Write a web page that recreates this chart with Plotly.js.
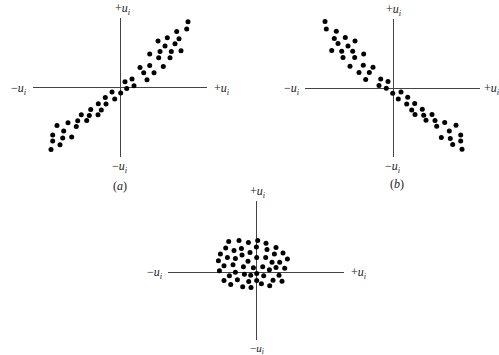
<!DOCTYPE html>
<html>
<head>
<meta charset="utf-8">
<script src="https://cdn.plot.ly/plotly-3.0.1.min.js"></script>
<style>
  body { margin: 0; background: white; }
  #graph { width: 499px; height: 355px; }
</style>
</head>
<body>
<div id="graph"></div>
<script>
// panel (a): positive correlation
const aX = [68, 66.7, 56.7, 59, 47.3, 38, 55, 45, 61, 51.3, 40, 29.7, 50, 38.7, 29.7, 43.3, 20, 23.7, 34, 27,
  12, 5, 14, 6.7, 0.7, -8, -5.3, -14.7, -14, -21.7, -18.7, -29.3, -22, -30.7, -38.7, -33.3, -42.3, -43.7,
  -52, -63, -56.3, -67.3, -48.3, -57.3, -67.3, -60, -69];
const aY = [66, 58.7, 56.3, 49, 50, 46.7, 44, 41.7, 37, 36.3, 36.3, 33.7, 30, 30, 22.3, 21.3, 20.3, 15, 15, 8,
  8.7, 6, 2, -0.7, -5.3, -4.3, -11.3, -9.7, -16.3, -16, -22.3, -21.7, -27, -27.7, -27, -32.7, -33, -38.7,
  -35, -37.7, -43.3, -47.3, -49.3, -50.3, -53.3, -57, -61.7];

// panel (b): negative correlation
const bX = [-68, -66.7, -56.7, -58.7, -47.7, -38, -55, -45, -61.3, -51.3, -40.3, -29.3, -50, -38.3, -29.7, -43,
  -20, -23.7, -34, -27.3, -12.3, -5, -14, -6.7, -0.3, 8, 5.3, 14.7, 13.7, 21.7, 18.7, 29.3, 22, 30.7, 39,
  33, 42, 43.7, 51.7, 63, 56.3, 67.7, 48.3, 57.3, 67.7, 59.7, 69];
const bY = [66.7, 59.3, 57, 49.7, 50.7, 47.3, 44.7, 42.3, 37.7, 37, 37, 34.3, 30.7, 30.7, 23, 22, 21, 15.7,
  15.7, 8.7, 9.3, 6.7, 2.7, 0, -5, -3.7, -10.7, -9, -15.7, -15.3, -21.7, -21, -26.3, -27, -26.3, -32,
  -32.3, -38, -34.3, -37, -42.7, -46.7, -49.3, -50.3, -52.7, -56.3, -61];

// panel (c): no correlation
const cX = [-28, -17.7, -8.3, 1, 9.3, -31, -22.7, -15.3, -6.7, -0.3, 10.3, 19.3, -36.3, -29.3, -21.3, -14.7,
  0, 9, 17.7, 26.3, -38.3, -32.7, -23.7, -13.3, -8.7, -3.3, 6, 15.3, 23, 30.7, 19.3, 28, -37.3, -21.3,
  -27.3, -12.3, -6, 0, 7, 12.7, 22.3, -32.7, -19.3, -8, 0, 16.3, 25.3, -26, -14, -5.7, 4.7, 13];
const cY = [30.7, 31.7, 29.7, 31.7, 29, 24.3, 21.7, 23.7, 19.7, 25.3, 22.7, 24.7, 18.3, 14.7, 13.7, 17.3,
  14.7, 14.7, 18.3, 19.3, 11.3, 6.3, 7.3, 5.3, 11, 4.3, 5.3, 10, 10, 13.3, 4.7, 4, 1.3, 0, -3.7, -2,
  -3, -1.3, -3.7, 2.3, -3, -8.3, -7.7, -9.3, -8.3, -8, -9, -12.3, -14.7, -15.3, -11.7, -13.7];

const W = 499, H = 355;
const px = v => v / W;
const py = v => 1 - v / H;

const dots = { color: 'black', size: 5 };

const traces = [
  { x: aX, y: aY, xaxis: 'x', yaxis: 'y', type: 'scatter', mode: 'markers', marker: dots },
  { x: bX, y: bY, xaxis: 'x2', yaxis: 'y2', type: 'scatter', mode: 'markers', marker: dots },
  { x: cX, y: cY, xaxis: 'x3', yaxis: 'y3', type: 'scatter', mode: 'markers', marker: dots }
];

function ax(domain, range) {
  return {
    domain: domain,
    range: range,
    showgrid: false,
    showticklabels: false,
    ticks: '',
    showline: false,
    zeroline: true,
    zerolinecolor: '#444',
    zerolinewidth: 1,
    fixedrange: true
  };
}

// anchor: 'top' label sits above a line end, 'bottom' below it, 'mid' beside it
const lbl = (x, y, text, anchor, size) => ({
  x: px(x), y: py(y), xref: 'paper', yref: 'paper', text: text, showarrow: false,
  yanchor: anchor === 'top' ? 'bottom' : anchor === 'bottom' ? 'top' : 'middle',
  xanchor: 'center',
  font: { family: 'Liberation Serif', size: size || 12, color: '#222' }
});
const plus = '+<i>u<sub>i</sub></i>';
const minus = '\u2212<i>u<sub>i</sub></i>';

const layout = {
  width: W,
  height: H,
  margin: { l: 0, r: 0, t: 0, b: 0 },
  paper_bgcolor: 'white',
  plot_bgcolor: 'white',
  showlegend: false,
  xaxis: ax([px(32.7), px(206.7)], [-87.3, 86.7]),
  yaxis: ax([py(157), py(18)], [-69.3, 69.7]),
  xaxis2: ax([px(305), px(480)], [-88, 87]),
  yaxis2: ax([py(157), py(19)], [-68.7, 69.3]),
  xaxis3: ax([px(168), px(344)], [-88.7, 87.3]),
  yaxis3: ax([py(340), py(201)], [-68, 71.3]),
  annotations: [
    lbl(123, 19, plus, 'top'), lbl(19, 89, minus), lbl(222, 89, plus), lbl(120, 157, minus, 'bottom'),
    lbl(120, 186, '(<i>a</i>)'),
    lbl(394, 20, plus, 'top'), lbl(292, 89, minus), lbl(492, 89, plus), lbl(393, 157, minus, 'bottom'),
    lbl(397, 184, '(<i>b</i>)'),
    lbl(258, 202, plus, 'top'), lbl(155, 273, minus), lbl(359, 273, plus), lbl(257, 340, minus, 'bottom', 11)
  ]
};

Plotly.newPlot('graph', traces, layout, { staticPlot: true });
</script>
</body>
</html>
